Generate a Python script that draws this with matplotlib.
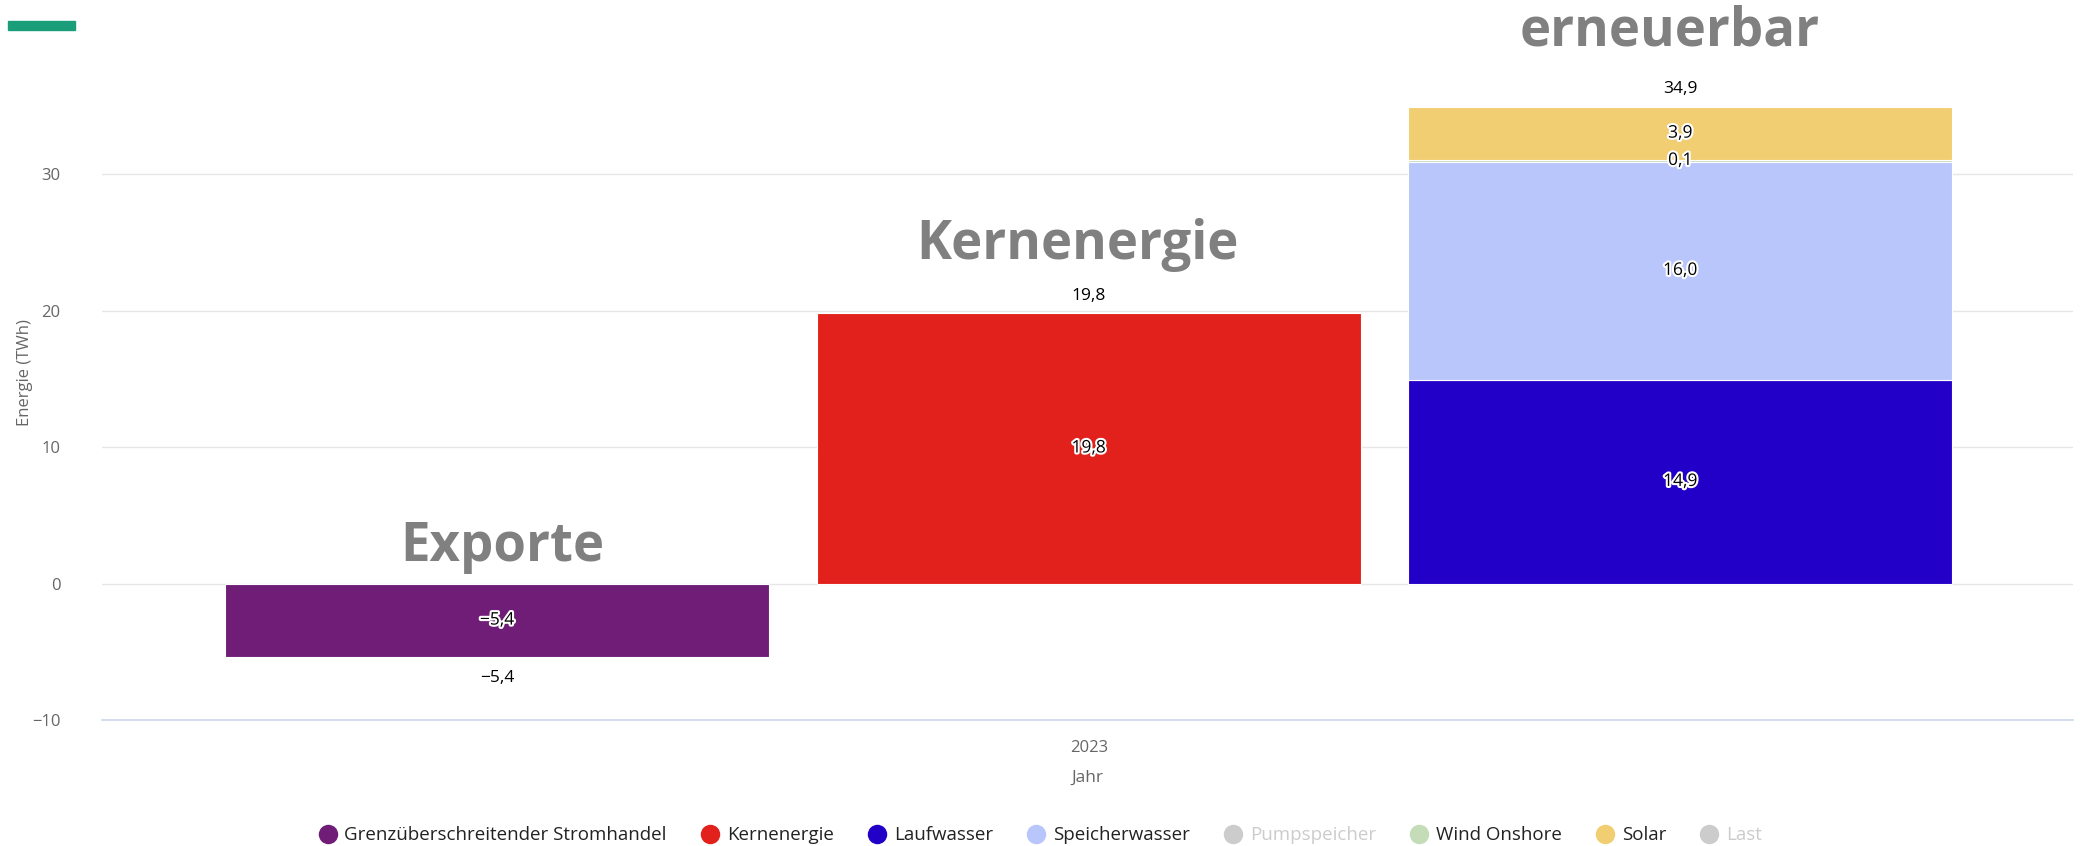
import numpy as np
import matplotlib.pyplot as plt
import matplotlib.patheffects as pe
from matplotlib.lines import Line2D

# data
series = ['Grenzüberschreitender Stromhandel', 'Kernenergie', 'Laufwasser', 'Speicherwasser',
          'Pumpspeicher', 'Wind Onshore', 'Solar', 'Last']
values = [-5.4, 19.8, 14.9, 16.0, 0.0, 0.1, 3.9, 0.0]
stack = [0, 1, 2, 2, 2, 2, 2, 2]
visible = [True, True, True, True, False, True, True, False]
colors = ['#6f1d77', '#e2211c', '#2300c8', '#b8c6fb', '#cccccc', '#c5dcb8', '#f2ce72', '#cccccc']
group_titles = ['Exporte', 'Kernenergie', 'erneuerbar']
year = '2023'

plt.rcParams['font.family'] = ['Open Sans', 'DejaVu Sans']

fig = plt.figure(figsize=(20.8, 8.46), dpi=100)
ax = fig.add_axes([0.049, 0.1486, 0.9477, 0.775])

width = 0.92
pos_top = np.zeros(3)
neg_bot = np.zeros(3)
outline = [pe.withStroke(linewidth=3, foreground='white')]
for name, v, s, vis, c in zip(series, values, stack, visible, colors):
    if not vis:
        continue
    if v >= 0:
        base = pos_top[s]
        pos_top[s] += v
    else:
        base = neg_bot[s]
        neg_bot[s] += v
    ax.bar(s, v, width=width, bottom=base, color=c, edgecolor='white', linewidth=0.8, zorder=3)
    ax.text(s, base + v / 2, f'{v:.1f}'.replace('.', ',').replace('-', '\u2212'),
            ha='center', va='center', fontsize=12.5, color='black', zorder=5,
            path_effects=outline)

# stack totals
for s in range(3):
    if pos_top[s] > 0:
        ax.annotate(f'{pos_top[s]:.1f}'.replace('.', ','), (s, pos_top[s]), xytext=(0, 7),
                    textcoords='offset points', ha='center', va='bottom', fontsize=12.5)
    if neg_bot[s] < 0:
        ax.annotate(f'{neg_bot[s]:.1f}'.replace('.', ',').replace('-', '\u2212'), (s, neg_bot[s]),
                    xytext=(0, -9), textcoords='offset points', ha='center', va='top', fontsize=12.5)

# group titles (offsets in points)
title_dx = [4, -8, -8]
title_dy = [7, 30, 35]
for s, t in enumerate(group_titles):
    ax.annotate(t, (s, max(pos_top[s], 0)), xytext=(title_dx[s], title_dy[s]),
                textcoords='offset points', ha='center', va='bottom', fontsize=38,
                fontweight='bold', color='#808080', annotation_clip=False)

ax.set_xlim(-0.668, 2.664)
ax.set_ylim(-10, 38)
ax.set_yticks([-10, 0, 10, 20, 30])
ax.set_yticklabels(['\u221210', '0', '10', '20', '30'])
ax.set_xticks([1])
ax.set_xticklabels([year])
ax.tick_params(axis='both', length=0, labelsize=12, labelcolor='#666666')
ax.tick_params(axis='x', pad=14)
ax.tick_params(axis='y', pad=30)
ax.grid(axis='y', color='#e6e6e6', linewidth=1, zorder=0)
for sp in ['top', 'right', 'left']:
    ax.spines[sp].set_visible(False)
ax.spines['bottom'].set_color('#ccd6eb')
ax.spines['bottom'].set_linewidth(1.2)
ax.set_axisbelow(True)
ax.set_xlabel('Jahr', fontsize=12.5, color='#666666', labelpad=10)
ax.set_ylabel('Energie (TWh)', fontsize=12, color='#666666')
ax.yaxis.set_label_coords(-0.035, 0.53)

# legend
handles = []
for name, c, vis in zip(series, colors, visible):
    handles.append(Line2D([], [], marker='o', linestyle='none', markersize=14,
                          markerfacecolor=c if vis else '#cccccc', markeredgecolor='none'))
leg = fig.legend(handles, series, loc='lower center', bbox_to_anchor=(0.5, -0.018), ncol=8,
                 frameon=False, fontsize=13.5, handlelength=1.0, handletextpad=0.4,
                 columnspacing=1.8)
for txt, vis in zip(leg.get_texts(), visible):
    txt.set_color('#222222' if vis else '#cccccc')

# green accent mark
fig.patches.append(plt.Rectangle((8 / 2080, 1 - 30 / 846), 67 / 2080, 9 / 846,
                                 transform=fig.transFigure, color='#1a9e7a', figure=fig))

fig.savefig('out.png', dpi=100)
